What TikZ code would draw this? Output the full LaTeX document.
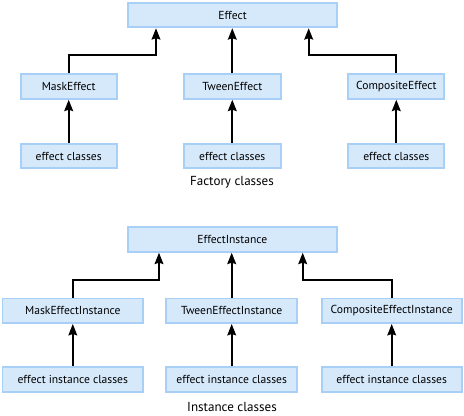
\documentclass[tikz,border=0pt]{standalone}
\usepackage{fontspec}
\setmainfont{PT Sans}
\usetikzlibrary{arrows.meta,calc}
\definecolor{boxfill}{RGB}{214,233,251}
\definecolor{boxline}{RGB}{168,208,246}
\begin{document}
\begin{tikzpicture}[x=0.75pt,y=-0.75pt,
  box/.style={rectangle,draw=boxline,fill=boxfill,line width=1.4pt,inner sep=0pt,
    minimum height=24.5*0.75pt,font=\fontsize{8.7}{10}\selectfont},
  lbl/.style={font=\fontsize{9.8}{11}\selectfont,inner sep=0pt},
  arr/.style={draw=black,line width=1.5pt,-{Stealth[length=8.5pt,width=6.5pt,inset=1pt]}}]
\useasboundingbox (0,0) rectangle (464,416);
% Factory classes
\node[box,minimum width=209*0.75pt] (eff) at (232.5,15) {Effect};
\node[box,minimum width=96*0.75pt] (mask) at (68.7,86.5) {MaskEffect};
\node[box,minimum width=96.7*0.75pt] (tween) at (232.3,86.5) {TweenEffect};
\node[box,minimum width=96*0.75pt] (comp) at (396.3,86.5) {CompositeEffect};
\node[box,minimum width=96*0.75pt] (ec1) at (68.7,156) {effect classes};
\node[box,minimum width=96.7*0.75pt] (ec2) at (232.3,156) {effect classes};
\node[box,minimum width=96*0.75pt] (ec3) at (396.3,156) {effect classes};
\node[lbl] (fc) at (232,182.5) {Factory classes};
\coordinate (effL) at ($(eff.south)+(-76.5,0)$);
\coordinate (effR) at ($(eff.south)+(76.2,0)$);
\draw[arr] (mask.north) -- ++(0,-18) -| (effL);
\draw[arr] (tween.north) -- (tween.north |- eff.south);
\draw[arr] (comp.north) -- ++(0,-18) -| (effR);
\draw[arr] (ec1.north) -- (mask.south);
\draw[arr] (ec2.north) -- (tween.south);
\draw[arr] (ec3.north) -- (comp.south);
% Instance classes
\node[box,minimum width=208.7*0.75pt] (effi) at (232.3,239.5) {EffectInstance};
\node[box,minimum width=140.5*0.75pt] (maski) at (72.8,310.8) {MaskEffectInstance};
\node[box,minimum width=131.3*0.75pt] (tweeni) at (231.7,310.8) {TweenEffectInstance};
\node[box,minimum width=140*0.75pt] (compi) at (391.7,310.8) {CompositeEffectInstance};
\node[box,minimum width=140.5*0.75pt] (eic1) at (72.8,379.5) {effect instance classes};
\node[box,minimum width=131.3*0.75pt] (eic2) at (231.7,379.5) {effect instance classes};
\node[box,minimum width=140*0.75pt] (eic3) at (391.7,379.5) {effect instance classes};
\node[lbl] (ic) at (232,407.5) {Instance classes};
\coordinate (effiL) at ($(effi.south)+(-73.3,0)$);
\coordinate (effiR) at ($(effi.south)+(70.4,0)$);
\draw[arr] (maski.north) -- ++(0,-17.6) -| (effiL);
\draw[arr] (tweeni.north) -- (tweeni.north |- effi.south);
\draw[arr] (compi.north) -- ++(0,-17.6) -| (effiR);
\draw[arr] (eic1.north) -- (maski.south);
\draw[arr] (eic2.north) -- (tweeni.south);
\draw[arr] (eic3.north) -- (compi.south);
\end{tikzpicture}
\end{document}
